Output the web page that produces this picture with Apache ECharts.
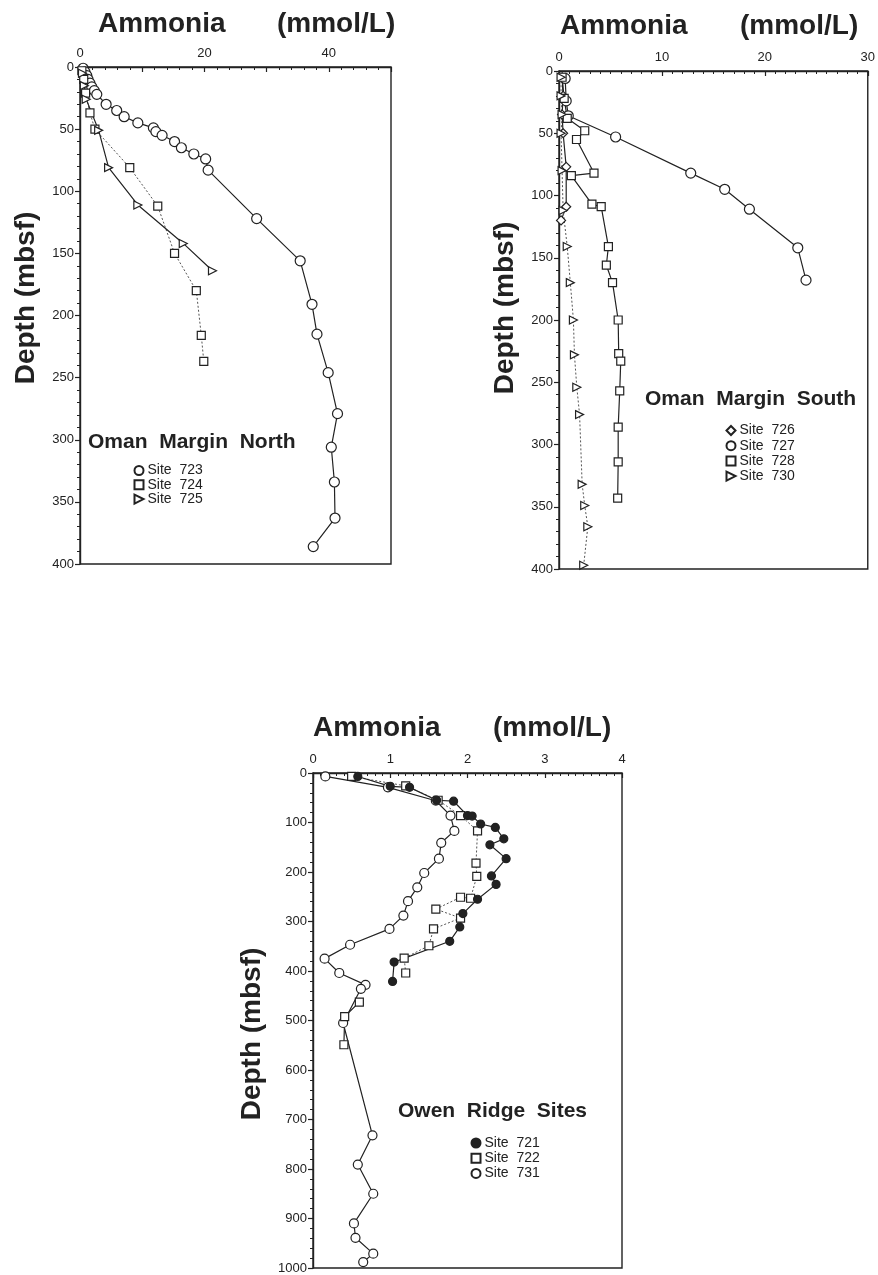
<!DOCTYPE html>
<html><head><meta charset="utf-8">
<script src="https://cdn.jsdelivr.net/npm/echarts@6/dist/echarts.min.js"></script>
<style>html,body{margin:0;padding:0;background:#fff}#c{width:878px;height:1275px}</style>
</head><body><div id="c"></div>
<script>
// ---- Data: [ammonia (mmol/L), depth (mbsf)] ----
// Oman Margin North
const site723 = [[0.5,1],[0.8,4],[1.1,7],[1.3,10],[1.6,13],[1.9,16],[2.3,19],[2.7,22],[4.2,30],[5.9,35],[7.1,40],[9.3,45],[11.8,49],[12.2,52],[13.2,55],[15.2,60],[16.3,65],[18.3,70],[20.2,74],[20.6,83],[28.4,122],[35.4,156],[37.3,191],[38.1,215],[39.9,246],[41.4,279],[40.4,306],[40.9,334],[41.0,363],[37.5,386]];
const site724 = [[0.3,3],[0.6,10],[0.9,21],[1.6,37],[2.4,50],[8.0,81],[12.5,112],[15.2,150],[18.7,180],[19.5,216],[19.9,237]];
const site725 = [[0.4,5],[0.7,15],[1.0,26],[3.0,51],[4.6,81],[9.3,111],[16.6,142],[21.3,164]];
// Oman Margin South
const site726 = [[0.3,5],[0.4,20],[0.3,35],[0.4,50],[0.7,77],[0.7,109],[0.2,120]];
const site727 = [[0.6,6],[0.7,24],[0.9,36],[5.5,53],[12.8,82],[16.1,95],[18.5,111],[23.2,142],[24.0,168]];
const site728 = [[0.3,5],[0.5,22],[0.8,38],[2.5,48],[1.7,55],[3.4,82],[1.2,84],[3.2,107],[4.1,109],[4.8,141],[4.6,156],[5.2,170],[5.75,200],[5.8,227],[6.0,233],[5.9,257],[5.75,286],[5.75,314],[5.7,343]];
const site730 = [[0.2,5],[0.2,20],[0.3,35],[0.2,50],[0.3,80],[0.4,112],[0.8,141],[1.1,170],[1.4,200],[1.5,228],[1.73,254],[2.0,276],[2.25,332],[2.5,349],[2.8,366],[2.4,397]];
// Owen Ridge
const site721 = [[0.58,7],[1.0,27],[1.25,29],[1.6,55],[1.82,57],[2.0,86],[2.06,87],[2.17,103],[2.36,110],[2.47,133],[2.29,145],[2.5,173],[2.31,208],[2.37,225],[2.13,255],[1.94,284],[1.9,311],[1.77,340],[1.05,382],[1.03,421]];
const site722 = [[0.5,7],[1.2,26],[1.62,55],[1.91,86],[2.13,117],[2.11,182],[2.12,209],[2.04,253],[1.91,251],[1.59,275],[1.91,293],[1.56,315],[1.5,349],[1.18,374],[1.2,404]];
const site722Deep = [[0.6,463],[0.41,492],[0.4,549]];
const site731 = [[0.16,7],[0.97,29],[1.59,56],[1.78,86],[1.83,117],[1.66,141],[1.63,173],[1.44,202],[1.35,231],[1.23,259],[1.17,288],[0.99,315],[0.48,347],[0.15,375],[0.34,404],[0.68,428],[0.62,436],[0.39,505],[0.77,732],[0.58,791],[0.78,850],[0.53,910],[0.55,939],[0.78,971],[0.65,988]];

const xMax = [50, 30, 4];
const yMax = [400, 400, 1000];
const xLabelEvery = [20, 10, 1];

// ---- Rendering ----
const chart = echarts.init(document.getElementById('c'), null, {renderer:'canvas'});
const FONT = '"Liberation Sans", Arial, Helvetica, sans-serif';
const INK = '#222';
const TRI = 'path://M0,0L10,5L0,10Z';

function xAx(gi, max, interval, minorSplit, every) {
  return {gridIndex:gi, type:'value', position:'top', min:0, max:max, interval:interval,
    axisLine:{show:true, onZero:false, lineStyle:{color:INK, width:1.4}},
    axisTick:{show:true, inside:true, length:5, lineStyle:{color:INK, width:1.2}},
    minorTick:{show:true, splitNumber:minorSplit, length:3, lineStyle:{color:INK, width:1}},
    splitLine:{show:false}, minorSplitLine:{show:false},
    axisLabel:{color:INK, fontFamily:FONT, fontSize:13, margin:7,
      formatter:function(v){ const r = v/every; return Math.abs(r-Math.round(r))<1e-6 ? String(Math.round(v)) : ''; }}};
}
function yAx(gi, max, interval, minorSplit) {
  return {gridIndex:gi, type:'value', inverse:true, min:0, max:max, interval:interval,
    axisLine:{show:true, onZero:false, lineStyle:{color:INK, width:1.4}},
    axisTick:{show:true, inside:false, length:5, lineStyle:{color:INK, width:1.2}},
    minorTick:{show:true, splitNumber:minorSplit, length:3, lineStyle:{color:INK, width:1}},
    splitLine:{show:false}, minorSplitLine:{show:false},
    axisLabel:{color:INK, fontFamily:FONT, fontSize:13, margin:6,
      formatter:function(v){ return String(Math.round(v)); }}};
}
function ser(name, data, gi, symbol, size, fill, dotted) {
  return {name:name, type:'line', xAxisIndex:gi, yAxisIndex:gi, data:data,
    symbol:symbol, symbolSize:size, showSymbol:true, clip:false, animation:false,
    lineStyle:{color: dotted ? '#555' : INK, width: dotted ? 1 : 1.2, type: dotted ? [2,2] : 'solid'},
    itemStyle:{color:fill, borderColor:INK, borderWidth:1.2},
    emphasis:{disabled:true}};
}
function legend(names, icons, left, top, gap) {
  return {orient:'vertical', left:left, top:top, padding:0, itemGap:gap, itemWidth:9, itemHeight:9,
    selectedMode:false, textStyle:{color:INK, fontFamily:FONT, fontSize:14, lineHeight:13, padding:[0,0,0,-1]},
    data: names.map((n,i)=>({name:n, icon:icons[i]}))};
}
function txt(t, left, top, size) {
  return {type:'text', left:left, top:top, silent:true,
    style:{text:t, fill:INK, font:'bold '+size+'px '+FONT}};
}
function vtxt(t, x, y, size) {
  return {type:'text', x:x, y:y, rotation:Math.PI/2, silent:true,
    style:{text:t, fill:INK, font:'bold '+size+'px '+FONT, align:'center', verticalAlign:'middle'}};
}

const option = {
  backgroundColor:'#fff',
  animation:false,
  grid:[
    {left:80, top:67, width:311, height:497, show:true, borderColor:INK, borderWidth:1.4, backgroundColor:'transparent'},
    {left:559, top:71, width:312, height:498, show:true, borderColor:INK, borderWidth:1.4, backgroundColor:'transparent'},
    {left:313, top:773, width:309, height:495, show:true, borderColor:INK, borderWidth:1.4, backgroundColor:'transparent'}
  ],
  xAxis:[
    xAx(0, xMax[0], 10, 5, xLabelEvery[0]),
    xAx(1, xMax[1], 10, 10, xLabelEvery[1]),
    xAx(2, xMax[2], 1, 10, xLabelEvery[2])
  ],
  yAxis:[
    yAx(0, yMax[0], 50, 5),
    yAx(1, yMax[1], 50, 5),
    yAx(2, yMax[2], 100, 5)
  ],
  legend:[
    legend(['Site  723','Site  724','Site  725'], ['circle','rect',TRI], 133.5, 463.5, 0.3),
    legend(['Site  726','Site  727','Site  728','Site  730'], ['diamond','circle','rect',TRI], 725.5, 423.5, 1.2),
    legend(['Site  721','Site  722','Site  731'], ['circle','rect','circle'], 470.5, 1136, 1.2)
  ],
  series:[
    ser('Site  723', site723, 0, 'circle', 10, '#fff', false),
    ser('Site  724', site724, 0, 'rect', 8, '#fff', true),
    ser('Site  725', site725, 0, TRI, 8, '#fff', false),
    ser('Site  726', site726, 1, 'diamond', 9, '#fff', false),
    ser('Site  727', site727, 1, 'circle', 10, '#fff', false),
    ser('Site  728', site728, 1, 'rect', 8, '#fff', false),
    ser('Site  730', site730, 1, TRI, 8, '#fff', true),
    ser('Site  731', site731, 2, 'circle', 9, '#fff', false),
    ser('Site  722', site722, 2, 'rect', 8, '#fff', true),
    ser('Site  722 deep', site722Deep, 2, 'rect', 8, '#fff', false),
    ser('Site  721', site721, 2, 'circle', 8, INK, false)
  ],
  graphic:[
    txt('Ammonia', 98, 10, 28), txt('(mmol/L)', 277, 10, 28),
    txt('Ammonia', 560, 12, 28), txt('(mmol/L)', 740, 12, 28),
    txt('Ammonia', 313, 714, 28), txt('(mmol/L)', 493, 714, 28),
    vtxt('Depth (mbsf)', 26, 298, 28),
    vtxt('Depth (mbsf)', 505, 308, 28),
    vtxt('Depth (mbsf)', 252, 1034, 28),
    txt('Oman  Margin  North', 88, 432, 21),
    txt('Oman  Margin  South', 645, 389, 21),
    txt('Owen  Ridge  Sites', 398, 1101, 21)
  ]
};
chart.setOption(option);
</script></body></html>
